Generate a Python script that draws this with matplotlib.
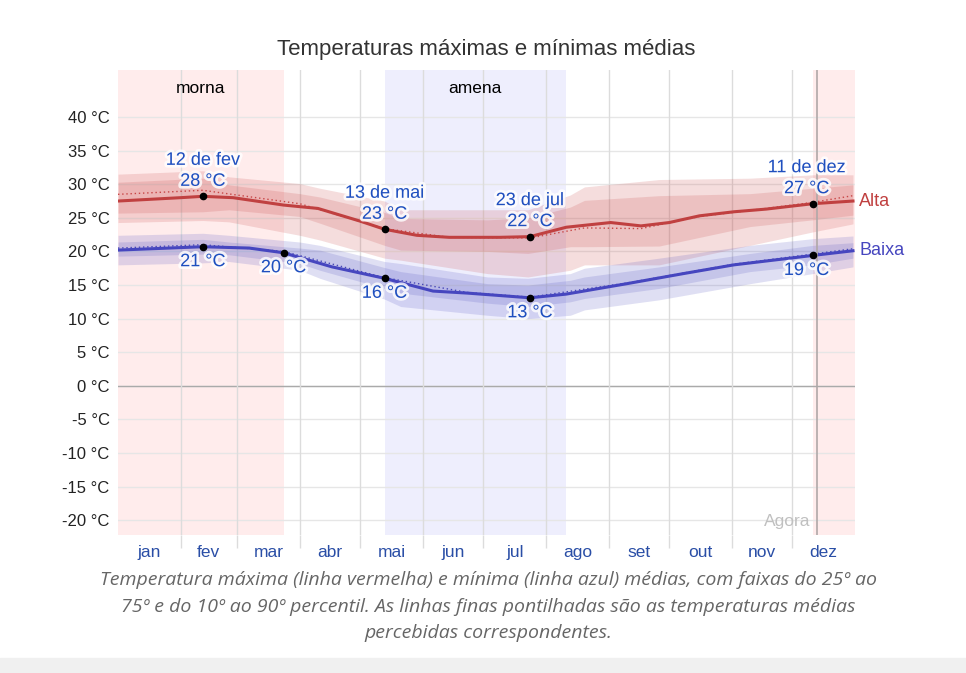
import matplotlib
matplotlib.use("Agg")
import matplotlib.pyplot as plt
import matplotlib.patheffects as pe
import numpy as np

# ---------------- data ----------------
month_labels = ["jan", "fev", "mar", "abr", "mai", "jun", "jul", "ago", "set", "out", "nov", "dez"]
month_starts = [0, 31, 59, 90, 120, 151, 181, 212, 243, 273, 304, 334, 365]

high_days = [0, 31, 42, 57, 82, 99, 120, 132, 148, 164, 189, 204, 222, 244, 259, 273, 288, 305, 321, 344, 364]
high_vals = [27.5, 28.0, 28.2, 28.0, 26.9, 26.4, 24.5, 23.3, 22.4, 22.1, 22.1, 22.2, 23.6, 24.3, 23.8, 24.3, 25.3, 25.9, 26.3, 27.1, 27.5]

low_days = [0, 42, 65, 82, 106, 132, 156, 173, 204, 222, 252, 280, 305, 344, 364]
low_vals = [20.2, 20.7, 20.5, 19.8, 17.7, 16.0, 14.1, 13.8, 13.1, 13.65, 15.2, 16.7, 18.0, 19.4, 20.1]

feel_high_days = [0, 42, 90, 132, 164, 204, 231, 259, 288, 321, 344, 364]
feel_high_vals = [28.5, 29.1, 27.1, 23.4, 22.1, 22.0, 23.5, 23.4, 25.2, 26.4, 27.3, 28.3]

feel_low_days = [0, 42, 82, 132, 173, 204, 252, 305, 344, 364]
feel_low_vals = [20.5, 21.0, 20.0, 16.1, 13.9, 13.2, 15.3, 18.1, 19.6, 20.4]

band_days = [0, 42, 55, 90, 100, 132, 140, 183, 203, 224, 231, 268, 313, 344, 364]
red_p90 = [31.5, 32.0, 31.1, 30.1, 29.4, 27.5, 26.2, 26.2, 26.2, 28.4, 29.6, 30.7, 30.9, 31.4, 31.4]
red_p75 = [30.3, 30.9, 29.9, 28.6, 28.1, 25.8, 24.9, 24.7, 25.0, 26.6, 27.6, 28.3, 28.6, 29.4, 29.9]
red_p25 = [25.7, 25.9, 26.2, 25.2, 24.2, 20.9, 20.2, 20.0, 19.7, 20.7, 20.7, 20.8, 23.7, 24.7, 25.4]
red_p10 = [24.3, 24.6, 24.4, 22.4, 21.7, 19.0, 18.7, 16.7, 16.2, 17.2, 18.0, 18.0, 20.9, 22.9, 24.1]
blue_p90 = [22.4, 22.7, 22.4, 21.4, 20.9, 18.5, 18.2, 16.2, 16.0, 16.7, 17.5, 19.0, 20.9, 21.9, 22.3]
blue_p75 = [21.4, 21.8, 21.4, 20.5, 20.2, 17.6, 17.0, 15.2, 15.0, 15.7, 16.2, 17.7, 19.7, 20.9, 21.3]
blue_p25 = [19.3, 19.6, 19.5, 18.2, 17.2, 14.5, 13.8, 12.3, 11.8, 12.5, 13.0, 14.5, 17.0, 18.0, 19.0]
blue_p10 = [18.0, 18.3, 18.5, 17.2, 16.0, 12.9, 11.8, 10.5, 10.0, 10.5, 11.3, 12.8, 15.2, 16.7, 17.7]

# seasons
season_starts = [0, 132, 344]
season_ends = [82, 222, 365]
season_labels = ["morna", "amena", ""]
season_colors = ["#ffecec", "#eeeefd", "#ffecec"]

# annotations
ann_days = [42, 132, 204, 344, 42, 82, 132, 204, 344]
ann_vals = [28.2, 23.3, 22.2, 27.1, 20.7, 19.8, 16.0, 13.1, 19.4]
ann_top = ["12 de fev", "13 de mai", "23 de jul", "11 de dez", "", "", "", "", ""]
ann_text = ["28 °C", "23 °C", "22 °C", "27 °C", "21 °C", "20 °C", "16 °C", "13 °C", "19 °C"]
ann_above = [True, True, True, True, False, False, False, False, False]

now_day = 346
yticks = list(range(-20, 45, 5))

# ---------------- figure ----------------
plt.rcParams['font.family'] = ['Liberation Sans', 'DejaVu Sans']
W, H = 966, 673
fig = plt.figure(figsize=(W / 100, H / 100), dpi=100)
fig.patch.set_facecolor("white")

ax_l, ax_r, ax_t, ax_b = 118, 855, 70, 535
ax = fig.add_axes([ax_l / W, 1 - ax_b / H, (ax_r - ax_l) / W, (ax_b - ax_t) / H])
ax.set_xlim(0, 365)
ax.set_ylim(-22.2, 47.0)
for s in ax.spines.values():
    s.set_visible(False)

for s0, s1, lab, col in zip(season_starts, season_ends, season_labels, season_colors):
    ax.axvspan(s0, s1, color=col, zorder=0, lw=0)
    if lab:
        ax.text((s0 + s1) / 2, 44.3, lab, ha="center", va="center", fontsize=12.5, color="black", zorder=5)

for yv in yticks:
    ax.axhline(yv, color="#e6e6e6", lw=1, zorder=1)
ax.axhline(0, color="#aaaaaa", lw=1, zorder=1)
for m in month_starts[1:-1]:
    ax.axvline(m, color="#dcdcdc", lw=1, zorder=1)

ax.fill_between(band_days, red_p10, red_p90, color="#c84646", alpha=0.18, lw=0, zorder=2)
ax.fill_between(band_days, red_p25, red_p75, color="#c84646", alpha=0.18, lw=0, zorder=2)
ax.fill_between(band_days, blue_p10, blue_p90, color="#5050c0", alpha=0.18, lw=0, zorder=2)
ax.fill_between(band_days, blue_p25, blue_p75, color="#5050c0", alpha=0.18, lw=0, zorder=2)

ax.plot(feel_high_days, feel_high_vals, color="#c84646", lw=1, ls=(0, (1, 2)), zorder=3)
ax.plot(feel_low_days, feel_low_vals, color="#4848b8", lw=1, ls=(0, (1, 2)), zorder=3)
ax.plot(high_days, high_vals, color="#c04040", lw=2.2, zorder=4)
ax.plot(low_days, low_vals, color="#4646bf", lw=2.2, zorder=4)

ax.axvline(now_day, color="#b0a8a8", lw=1.2, zorder=4)
ax.text(now_day - 3, -20.2, "Agora", ha="right", va="center", fontsize=12.5, color="#c0c0c0", zorder=5)

halo = [pe.withStroke(linewidth=4, foreground="white", alpha=0.8)]
acol = "#1f4fbf"
for d, v, top, txt, above in zip(ann_days, ann_vals, ann_top, ann_text, ann_above):
    ax.plot(d, v, "o", color="black", ms=4.5, zorder=6)
    dx = -6 if d > 340 else 0
    if above:
        ax.annotate(txt, (d, v), xytext=(dx, 15), textcoords="offset pixels", ha="center", va="center",
                    fontsize=13, color=acol, path_effects=halo, zorder=7)
        ax.annotate(top, (d, v), xytext=(dx, 36), textcoords="offset pixels", ha="center", va="center",
                    fontsize=13, color=acol, path_effects=halo, zorder=7)
    else:
        ax.annotate(txt, (d, v), xytext=(dx, -15), textcoords="offset pixels", ha="center", va="center",
                    fontsize=13, color=acol, path_effects=halo, zorder=7)

ax.text(367, high_vals[-1], "Alta", ha="left", va="center", fontsize=13, color="#c04040", clip_on=False)
ax.text(367, low_vals[-1], "Baixa", ha="left", va="center", fontsize=13, color="#4646bf", clip_on=False)

ax.set_yticks(yticks)
ax.set_yticklabels([f"{v} °C" for v in yticks], fontsize=12, color="#222222")
ax.tick_params(axis="y", length=0, pad=6)
ax.set_xticks(month_starts[1:-1])
ax.set_xticklabels([])
ax.tick_params(axis="x", which="major", length=9, color="#dcdcdc", width=1)
mids = [(a + b) / 2 for a, b in zip(month_starts[:-1], month_starts[1:])]
ax.set_xticks(mids, minor=True)
ax.set_xticklabels(month_labels, minor=True, fontsize=12.5, color="#2a4ea6")
ax.tick_params(axis="x", which="minor", length=0, pad=7)

fig.text((ax_l + ax_r) / 2 / W, 1 - 50 / H, "Temperaturas máximas e mínimas médias",
         ha="center", va="center", fontsize=16, color="#333333")

cap = ["Temperatura máxima (linha vermelha) e mínima (linha azul) médias, com faixas do 25º ao",
       "75º e do 10º ao 90º percentil. As linhas finas pontilhadas são as temperaturas médias",
       "percebidas correspondentes."]
for i, line in enumerate(cap):
    fig.text(488 / W, 1 - (580 + 26.5 * i) / H, line, ha="center", va="center", fontsize=14,
             color="#666666", family=["Open Sans", "DejaVu Sans"], style="italic")

fig.patches.append(plt.Rectangle((0, 0), 1, 15 / H, transform=fig.transFigure, color="#f0f0f0", zorder=0))

fig.savefig("out.png", dpi=100)
